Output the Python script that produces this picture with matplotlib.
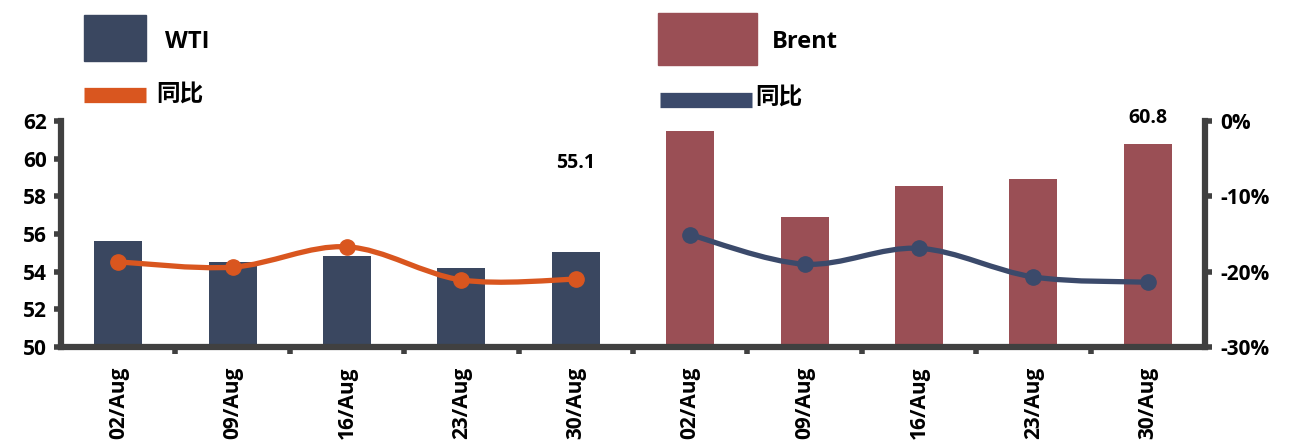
import matplotlib.pyplot as plt
import numpy as np
from matplotlib.path import Path
from matplotlib.patches import PathPatch, Rectangle
from matplotlib.lines import Line2D

plt.rcParams['font.family'] = ['Open Sans', 'Noto Sans CJK SC', 'DejaVu Sans']
plt.rcParams['font.weight'] = 'bold'

# data
dates = ['02/Aug', '09/Aug', '16/Aug', '23/Aug', '30/Aug']
wti = [55.63, 54.51, 54.83, 54.2, 55.05]
brent = [61.47, 56.9, 58.55, 58.9, 60.78]
wti_yoy = [-18.7, -19.4, -16.7, -21.1, -21.0]
brent_yoy = [-15.1, -19.0, -16.9, -20.7, -21.4]
wti_label = '55.1'
brent_label = '60.8'

c_wti = '#3a4760'
c_brent = '#9a4f55'
c_wti_line = '#d9561f'
c_brent_line = '#3b4a6b'
c_axis = '#404040'


def smooth_path(xs, ys):
    # catmull-rom style bezier through the points (like excel smooth lines)
    xs = np.asarray(xs, float)
    ys = np.asarray(ys, float)
    verts = [(xs[0], ys[0])]
    codes = [Path.MOVETO]
    n = len(xs)
    for i in range(n - 1):
        p0 = np.array([xs[max(i - 1, 0)], ys[max(i - 1, 0)]])
        p1 = np.array([xs[i], ys[i]])
        p2 = np.array([xs[i + 1], ys[i + 1]])
        p3 = np.array([xs[min(i + 2, n - 1)], ys[min(i + 2, n - 1)]])
        c1 = p1 + (p2 - p0) / 6
        c2 = p2 - (p3 - p1) / 6
        verts += [tuple(c1), tuple(c2), tuple(p2)]
        codes += [Path.CURVE4] * 3
    return Path(verts, codes)


fig = plt.figure(figsize=(12.91, 4.48), dpi=100)
ax = fig.add_axes([0.0473, 0.2254, 0.8861, 0.5045])
ax2 = ax.twinx()

x_wti = np.arange(len(dates))
x_brent = np.arange(len(dates)) + len(dates)
w = 0.42
ax.bar(x_wti, wti, width=w, color=c_wti, zorder=2)
ax.bar(x_brent, brent, width=w, color=c_brent, zorder=2)

ax.set_xlim(-0.5, 2 * len(dates) - 0.5)
ax.set_ylim(50, 62)
ax.set_yticks(range(50, 63, 2))
ax.set_xticks(list(x_wti) + list(x_brent))
ax.set_xticklabels(dates + dates, rotation=90, va='top', fontsize=15)
ax.tick_params(axis='x', length=0, pad=14)
ax.set_xticks(np.arange(0.5, 2 * len(dates) - 1, 1), minor=True)
ax.tick_params(axis='x', which='minor', length=5, width=4, color=c_axis)
ax.tick_params(axis='y', length=5, width=4, color=c_axis, labelsize=15, pad=5)

ax2.set_ylim(-30, 0)
ax2.set_yticks([0, -10, -20, -30])
ax2.set_yticklabels(['0%', '-10%', '-20%', '-30%'])
ax2.tick_params(axis='y', length=5, width=4, color=c_axis, labelsize=15, pad=6)

for a in (ax, ax2):
    a.spines['top'].set_visible(False)
    for s in ('left', 'right', 'bottom'):
        a.spines[s].set_linewidth(4.5)
        a.spines[s].set_color(c_axis)
ax.spines['right'].set_visible(False)
ax2.spines['left'].set_visible(False)
ax2.spines['bottom'].set_visible(False)

ax.set_zorder(1)
ax2.set_zorder(2)
ax2.patch.set_visible(False)

for xs, ys, col in ((x_wti, wti_yoy, c_wti_line), (x_brent, brent_yoy, c_brent_line)):
    ax2.add_patch(PathPatch(smooth_path(xs, ys), facecolor='none', edgecolor=col,
                            lw=3.8, capstyle='round', zorder=3))
    ax2.plot(xs, ys, 'o', color=col, ms=11, zorder=4)

ax.text(x_wti[-1], 59.77, wti_label, ha='center', va='center', fontsize=14)
ax.text(x_brent[-1], 62.16, brent_label, ha='center', va='center', fontsize=14,
        clip_on=False)

# legend drawn in figure coordinates
fig.patches.append(Rectangle((84 / 1291, 1 - 61 / 448), 62 / 1291, 46 / 448,
                             transform=fig.transFigure, color=c_wti))
fig.patches.append(Rectangle((658 / 1291, 1 - 65 / 448), 99 / 1291, 52 / 448,
                             transform=fig.transFigure, color=c_brent))
fig.lines.append(Line2D([84 / 1291, 146 / 1291], [1 - 95 / 448] * 2,
                        transform=fig.transFigure, color=c_wti_line, lw=11,
                        solid_capstyle='butt'))
fig.lines.append(Line2D([660 / 1291, 752 / 1291], [1 - 100 / 448] * 2,
                        transform=fig.transFigure, color=c_brent_line, lw=11,
                        solid_capstyle='butt'))
fig.text(165 / 1291, 1 - 42 / 448, 'WTI', fontsize=17, va='center')
fig.text(772 / 1291, 1 - 42 / 448, 'Brent', fontsize=17, va='center')
fig.text(156 / 1291, 1 - 95 / 448, '同比', fontsize=17, va='center')
fig.text(755 / 1291, 1 - 98 / 448, '同比', fontsize=17, va='center')

fig.savefig('out.png', dpi=100)
